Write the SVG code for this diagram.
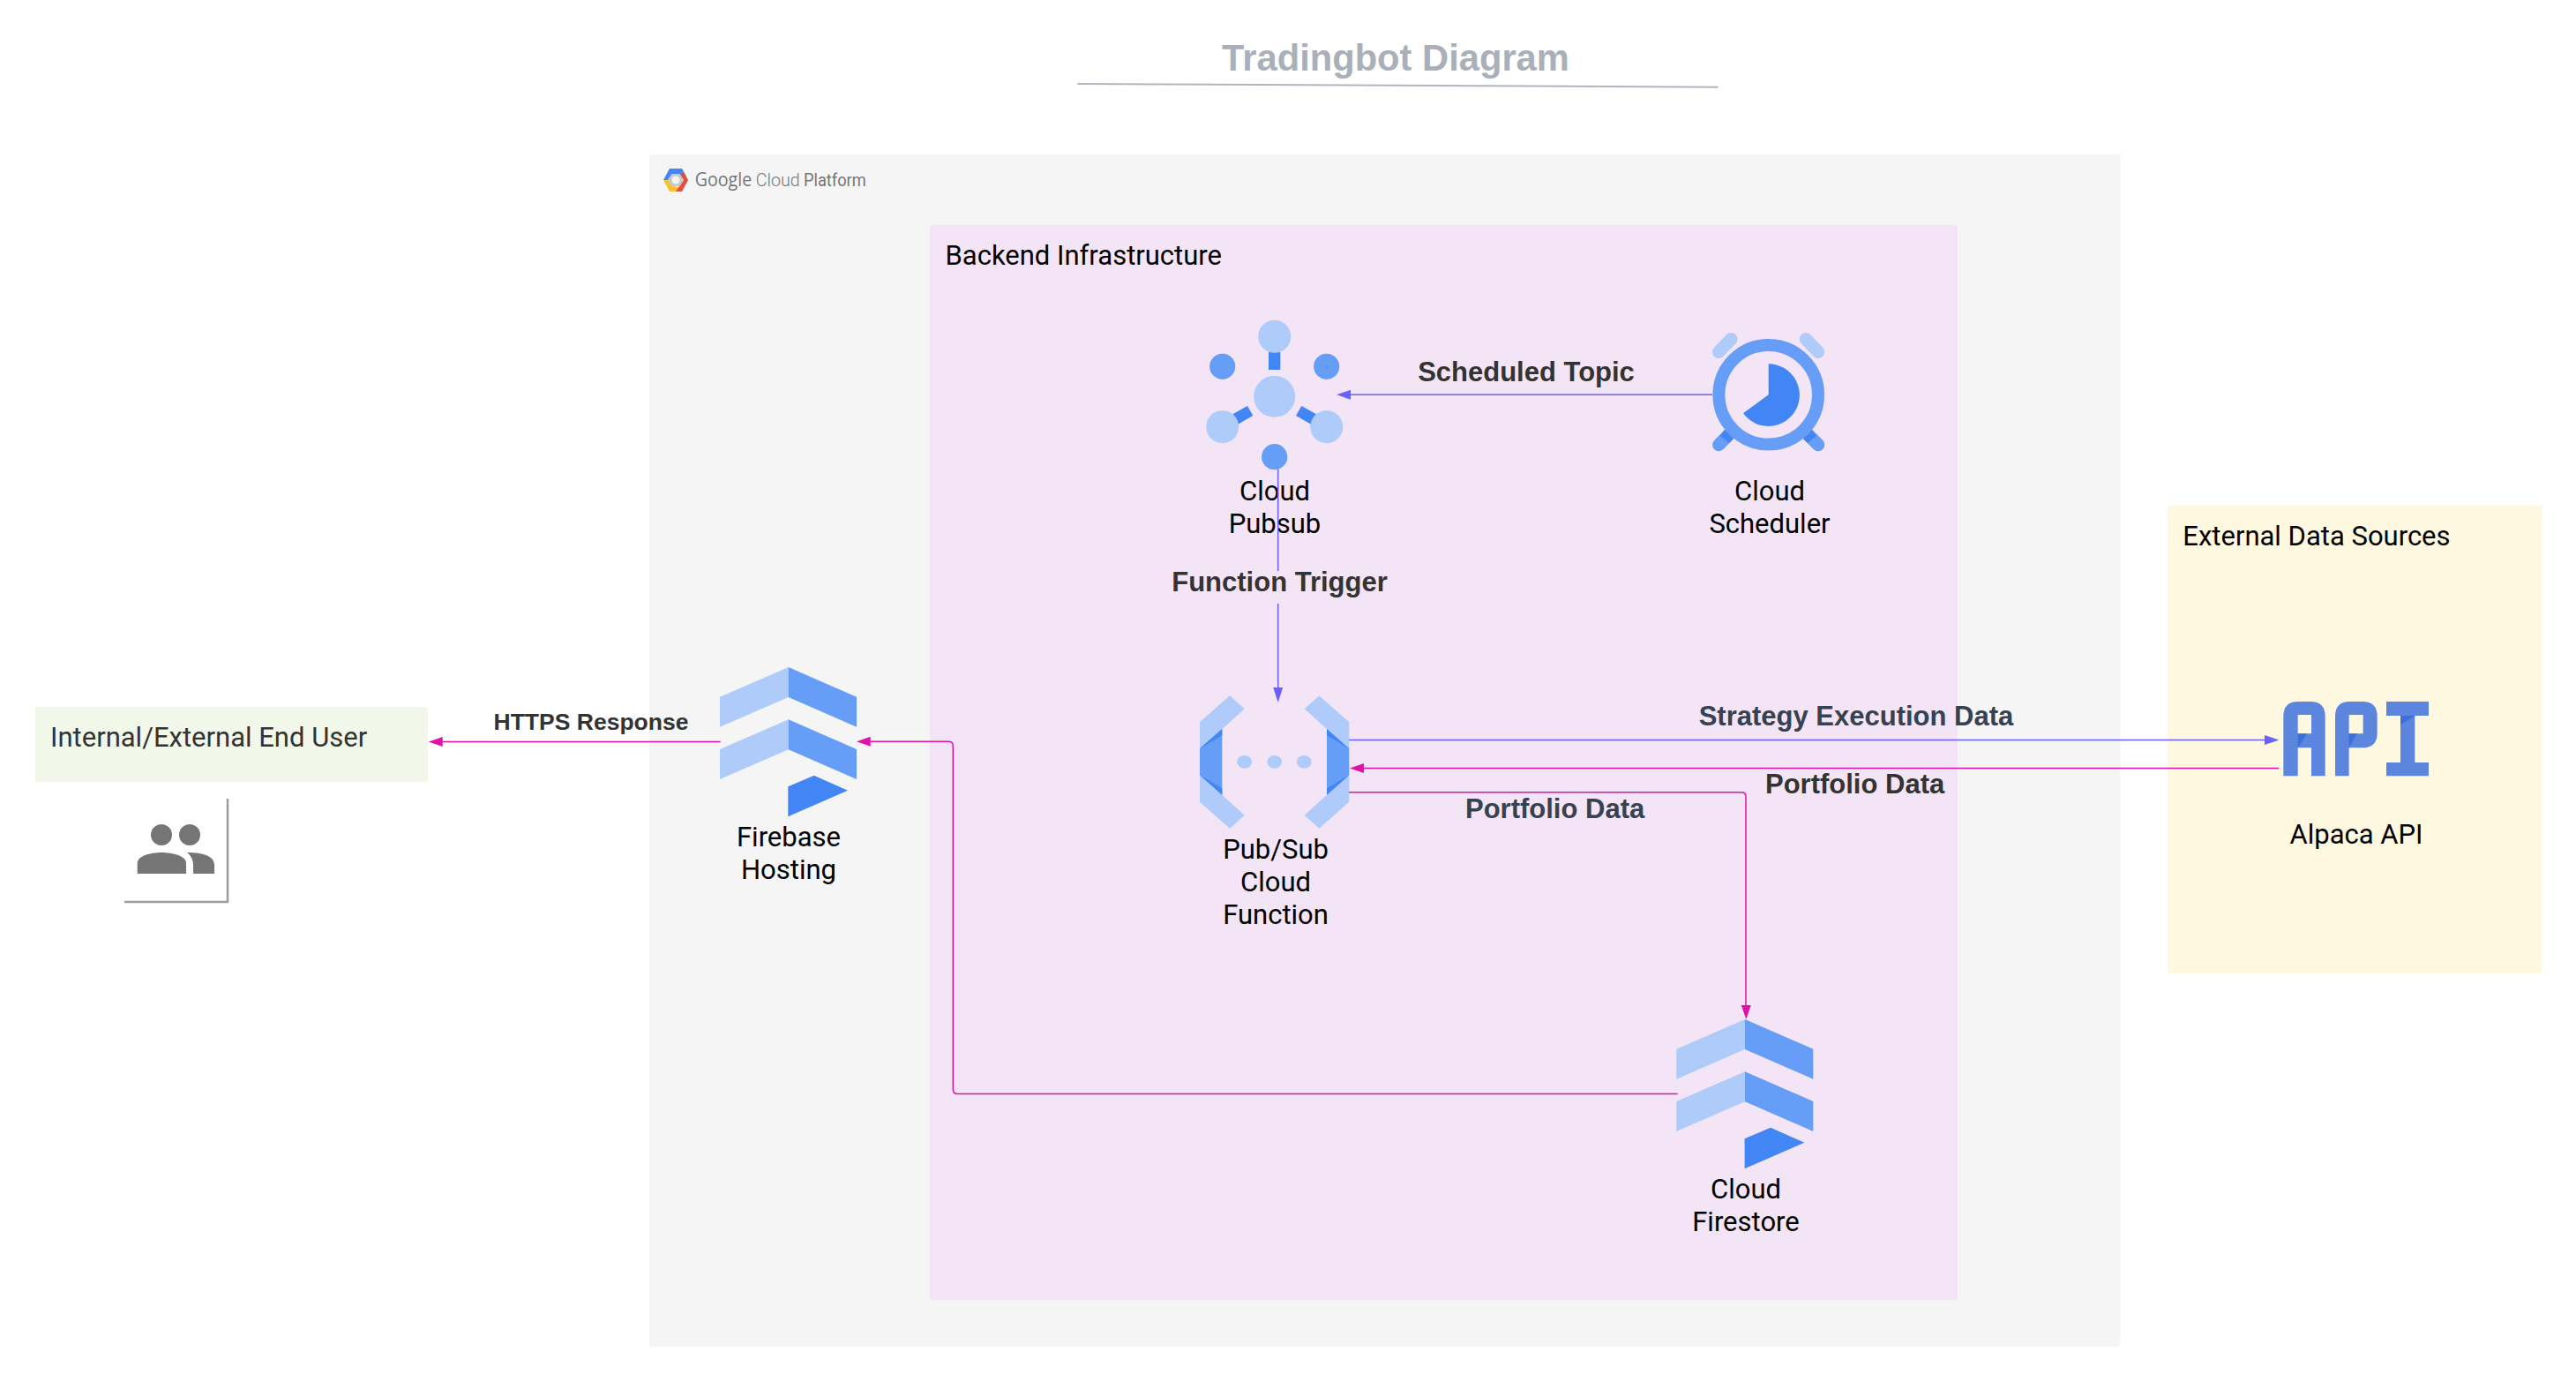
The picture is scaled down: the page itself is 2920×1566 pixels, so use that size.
<svg xmlns="http://www.w3.org/2000/svg" width="2920" height="1566" viewBox="0 0 2920 1566">
<style>
text{font-family:Roboto,"Liberation Sans",sans-serif;font-size:31px;fill:#000}
.c{text-anchor:middle}
.g{fill:#333}
.b{font-family:"Liberation Sans",Arial,sans-serif;font-weight:700;font-size:31px;fill:#333}
.s{fill:#374151}
.l{fill:#aecbfa}.m{fill:#669df6}.d{fill:#4285f4}
.a{fill:#5c85de}.e{fill:#3b6fdb}
.lb{fill:none;stroke:#6a5fff;stroke-width:1.5}
.lm{fill:none;stroke:#e013a9;stroke-width:1.5}
</style>
<defs>
<g id="stack">
<polygon class="l" points="816,789.7 893.7,756 893.7,790 816,823.7"/>
<polygon class="m" points="893.7,756 971,789.7 971,823.7 893.7,790"/>
<polygon class="l" points="816,849 893.7,815.3 893.7,849.3 816,883"/>
<polygon class="m" points="893.7,815.3 971,849 971,883 893.7,849.3"/>
<polygon class="d" points="893.3,891.3 922.7,878.7 961,895.7 893.3,925.3"/>
</g>
</defs>
<rect width="2920" height="1566" fill="#fff"/>
<g id="title">
<text x="1582" y="80" class="c" style="font-family:'Liberation Sans',Arial,sans-serif;font-weight:700;font-size:41.7px;fill:#aab0b9">Tradingbot Diagram</text>
<line x1="1221.5" y1="95" x2="1947.5" y2="98.7" stroke="#b0b5bf" stroke-width="2"/>
</g>
<g id="gcp">
<rect x="736" y="175" width="1667.5" height="1351" rx="2" fill="#f5f5f5"/>
<g id="gcp-logo">
<polygon points="752,204 759,191 773,191 778,200 770,197 762,197 757,204" fill="#4285f4"/>
<polygon points="752,204 757,204 762,211 769,212 767,217 759,217" fill="#fbc02d"/>
<polygon points="773,191 780,204 773,217 766,217 770,211 775,204 770,197 776,196" fill="#e0503c"/>
<polygon points="761.5,197 770.5,197 775,204 770.5,211 761.5,211 757,204" fill="#c8c8c8"/>
<circle cx="766" cy="204" r="4.5" fill="#f5f5f5"/>
<text x="787.7" y="211" textLength="64.6" lengthAdjust="spacingAndGlyphs" style="font-family:'Open Sans',sans-serif;font-size:21px;fill:#757575;font-weight:500">Google</text>
<text x="856.7" y="211" textLength="50" lengthAdjust="spacingAndGlyphs" style="font-size:21px;fill:#757575;font-weight:300">Cloud</text>
<text x="911" y="211" textLength="70.7" lengthAdjust="spacingAndGlyphs" style="font-size:21px;fill:#757575;font-weight:400">Platform</text>
</g>
</g>
<g id="backend">
<rect x="1054" y="255" width="1165" height="1218" rx="2" fill="#f3e5f5"/>
<text x="1071.5" y="300">Backend Infrastructure</text>
</g>
<g id="user">
<rect x="40" y="801" width="445" height="85" rx="2" fill="#f1f8e9"/>
<text x="57" y="846" class="g">Internal/External End User</text>
</g>
<g id="user-icon">
<path d="M141 1022H258V905" fill="none" stroke="#9e9e9e" stroke-width="2.5"/>
<circle cx="183" cy="946" r="12" fill="#757575"/>
<circle cx="215" cy="946" r="12" fill="#757575"/>
<path d="M155.7 990V978C155.7 970 170 966 183 966C196 966 211 970 211 978V990Z" fill="#757575"/>
<path d="M212 966C230 966 243 970 243 980V990H219V980C219 974 216 969 212 966Z" fill="#757575"/>
</g>
<g id="external">
<rect x="2456.7" y="572.7" width="425" height="530" rx="2" fill="#fff8e1"/>
<text x="2474.3" y="617.5">External Data Sources</text>
</g>
<g id="pubsub">
<rect class="d" x="1438" y="399" width="13.3" height="20"/>
<polygon class="d" points="1414,460 1420.3,471 1403.3,480.7 1397.3,469.3"/>
<polygon class="d" points="1475.3,460 1469,471 1486,480.7 1492,469.3"/>
<circle class="l" cx="1444.7" cy="381.3" r="18.5"/>
<circle class="l" cx="1444.7" cy="449.3" r="23.5"/>
<circle class="m" cx="1385.7" cy="415.3" r="14.6"/>
<circle class="m" cx="1503.7" cy="415.3" r="14.6"/>
<circle class="m" cx="1444.7" cy="517.7" r="14.6"/>
<circle class="l" cx="1385.7" cy="483.7" r="18.5"/>
<circle class="l" cx="1503.7" cy="483.7" r="18.5"/>
<text class="c" x="1445" y="566.5">Cloud</text>
<text class="c" x="1445" y="603.5">Pubsub</text>
</g>
<g id="scheduler">
<path d="M1948.3 398.7L1962.3 384.3M2047 384.3L2061 398.7" stroke="#aecbfa" stroke-width="14.5" stroke-linecap="round" fill="none"/>
<path d="M1948.3 504L1968 484M2061 504L2041 484" stroke="#669df6" stroke-width="14.5" stroke-linecap="round" fill="none"/>
<path d="M1950 494L1955 487L1965 497L1960 502ZM2059 494L2054 487L2044 497L2049 502Z" class="d"/>
<circle cx="2004.7" cy="447.3" r="56.3" fill="#f3e5f5" stroke="#669df6" stroke-width="14"/>
<path class="d" d="M2004.7 447.3V412.3A35.3 35.3 0 1 1 1976 468.3Z"/>
<text class="c" x="2006" y="566.5">Cloud</text>
<text class="c" x="2006" y="603.5">Scheduler</text>
</g>
<g id="function">
<polygon class="l" points="1394,788.3 1410.7,803.3 1360,849 1360,818.3"/>
<polygon class="l" points="1360,878.3 1385.3,900.7 1410.7,923.7 1394,938.7 1360,908.7"/>
<polygon class="l" points="1495.3,788.3 1478.7,803.3 1529.3,849 1529.3,818.3"/>
<polygon class="l" points="1529.3,878.3 1504,900.7 1478.7,923.7 1495.3,938.7 1529.3,908.7"/>
<polygon class="m" points="1360,848.3 1385.3,826 1385.3,900.7 1360,878.3"/>
<polygon class="m" points="1529.3,848.3 1504,826 1504,900.7 1529.3,878.3"/>
<polygon class="d" points="1360,848.3 1385.3,826 1385.3,833.3"/>
<polygon class="d" points="1360,878.3 1385.3,900.7 1385.3,893.3"/>
<polygon class="d" points="1529.3,848.3 1504,826 1504,833.3"/>
<polygon class="d" points="1529.3,878.3 1504,900.7 1504,893.3"/>
<ellipse class="l" cx="1410.7" cy="863.3" rx="8.4" ry="7.4"/>
<ellipse class="l" cx="1444.7" cy="863.3" rx="8.4" ry="7.4"/>
<ellipse class="l" cx="1478.3" cy="863.3" rx="8.4" ry="7.4"/>
<text class="c" x="1446" y="973">Pub/Sub</text>
<text class="c" x="1446" y="1010">Cloud</text>
<text class="c" x="1446" y="1047">Function</text>
</g>
<g id="firebase">
<use href="#stack"/>
<text class="c" x="894" y="959">Firebase</text>
<text class="c" x="894" y="996">Hosting</text>
</g>
<g id="firestore">
<use href="#stack" x="1084.3" y="399"/>
<text class="c" x="1979" y="1358">Cloud</text>
<text class="c" x="1979" y="1395">Firestore</text>
</g>
<g id="api">
<g transform="translate(2560 770) scale(.3333)">
<path class="a" fill-rule="evenodd" d="M85 328V125Q85 75 135 75H177Q227 75 227 125V328H180V232H134V328ZM134 120V184H180V120Z"/>
<polygon class="e" points="134,184 165,184 134,232"/>
<path class="a" fill-rule="evenodd" d="M261 328V125Q261 75 311 75H354Q404 75 404 125V182Q404 232 354 232H308V328ZM308 120V184H356V120Z"/>
<polygon class="e" points="308,184 335,184 308,232"/>
<path class="a" d="M435 75H579V123H532V282H579V328H435V282H483V123H435Z"/>
<polygon class="e" points="483,123 532,123 483,155"/>
</g>
<text class="c" x="2671" y="956">Alpaca API</text>
</g>
<g id="connectors">
<path class="lb" d="M1941 447.3H1530"/>
<polygon fill="#6a5fff" points="1515,447.3 1531,441.8 1531,452.8"/>
<path class="lb" d="M1448.7 532V647M1448.7 684V780"/>
<polygon fill="#6a5fff" points="1448.7,796 1443.2,779 1454.2,779"/>
<path class="lb" d="M1529 838.5H2568"/>
<polygon fill="#6a5fff" points="2583.3,838.5 2567,833 2567,844"/>
<path class="lm" d="M2583 870.5H1545"/>
<polygon fill="#e013a9" points="1530,870.5 1546,865 1546,876"/>
<path class="lm" d="M1529 897.7H1974Q1979 897.7 1979 902.7V1140"/>
<polygon fill="#e013a9" points="1979.3,1155 1973.8,1139 1984.8,1139"/>
<path class="lm" d="M1901.7 1239.5H1085.3Q1080.3 1239.5 1080.3 1234.5V845.3Q1080.3 840.3 1075.3 840.3H985"/>
<polygon fill="#e013a9" points="971,840.3 986.7,834.8 986.7,845.8"/>
<path class="lm" d="M816.7 840.5H500"/>
<polygon fill="#e013a9" points="485.7,840.5 501.7,835 501.7,846"/>
</g>
<g id="connector-labels">
<text class="b c" x="1730" y="432">Scheduled Topic</text>
<text class="b c" x="1450.5" y="670">Function Trigger</text>
<text class="b s c" x="2104" y="822">Strategy Execution Data</text>
<text class="b" x="2001" y="899">Portfolio Data</text>
<text class="b s" x="1661" y="927">Portfolio Data</text>
<text class="b c" x="670" y="827" style="font-size:26.5px">HTTPS Response</text>
</g>
</svg>
